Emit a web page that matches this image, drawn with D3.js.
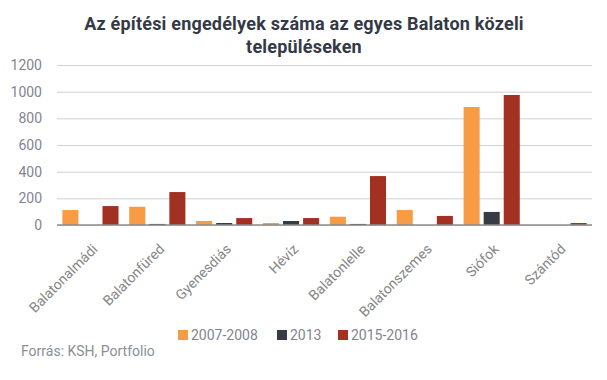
<!DOCTYPE html>
<html>
<head>
<meta charset="utf-8">
<script src="https://cdn.jsdelivr.net/npm/d3@7"></script>
<style>
  body { margin: 0; background: #fff; }
  svg { display: block; font-family: Roboto, "Noto Sans", sans-serif; }
</style>
</head>
<body>
<div id="chart"></div>
<script>
const categories = ['Balatonalmádi', 'Balatonfüred', 'Gyenesdiás', 'Hévíz', 'Balatonlelle', 'Balatonszemes', 'Siófok', 'Szántód'];
const seriesNames = ['2007-2008', '2013', '2015-2016'];
const values0708 = [112, 137, 30, 15, 62, 112, 885, 0];
const values2013 = [0, 8, 15, 30, 8, 0, 98, 0];
const values1516 = [142, 247, 52, 52, 367, 68, 975, 15];
const yTicks = [0, 200, 400, 600, 800, 1000, 1200];
const colors = ['#F79B45', '#373C44', '#A23122'];

const width = 607, height = 380;
const margin = { top: 65, right: 15, bottom: 155, left: 57 };
const innerWidth = width - margin.left - margin.right;
const innerHeight = height - margin.top - margin.bottom;

const table = categories.map((c, i) => ({
  category: c,
  values: [values0708[i], values2013[i], values1516[i]]
}));

const svg = d3.select('#chart').append('svg')
  .attr('width', width)
  .attr('height', height);

svg.append('text')
  .attr('x', 304).attr('y', 30)
  .attr('text-anchor', 'middle')
  .attr('font-size', 18).attr('font-weight', 'bold')
  .attr('letter-spacing', 0.2)
  .attr('fill', '#333A45')
  .selectAll('tspan')
  .data(['Az építési engedélyek száma az egyes Balaton közeli', 'településeken'])
  .join('tspan')
  .attr('x', 304)
  .attr('dy', (d, i) => i ? 23 : 0)
  .text(d => d);

const g = svg.append('g').attr('transform', `translate(${margin.left},${margin.top})`);

const x0 = d3.scaleBand().domain(categories).range([0, innerWidth]).paddingInner(0.16).paddingOuter(0.08);
const x1 = d3.scaleBand().domain(seriesNames).range([0, x0.bandwidth()]).paddingInner(0.2);
const y = d3.scaleLinear().domain([0, 1200]).range([innerHeight, 0]);

// gridlines
g.append('g')
  .call(d3.axisLeft(y).tickValues(yTicks).tickSize(-innerWidth).tickFormat(''))
  .call(a => a.select('.domain').remove())
  .call(a => a.selectAll('text').remove())
  .call(a => a.selectAll('line').attr('stroke', '#D0D0D0').attr('stroke-width', 1));

// y labels
g.append('g')
  .call(d3.axisLeft(y).tickValues(yTicks).tickSize(0).tickPadding(15).tickFormat(d3.format('d')))
  .call(a => a.select('.domain').remove())
  .call(a => a.selectAll('text').attr('font-size', 14).attr('fill', '#7F858F').attr('font-family', 'Roboto'));

// bars
g.append('g').selectAll('g')
  .data(table)
  .join('g')
  .attr('transform', d => `translate(${x0(d.category)},0)`)
  .selectAll('rect')
  .data(d => d.values.map((v, i) => ({ key: seriesNames[i], value: v, i })))
  .join('rect')
  .attr('x', d => x1(d.key))
  .attr('width', x1.bandwidth())
  .attr('y', d => y(d.value))
  .attr('height', d => innerHeight - y(d.value))
  .attr('fill', d => colors[d.i]);

// baseline
g.append('line')
  .attr('x1', 0).attr('x2', innerWidth)
  .attr('y1', y(0)).attr('y2', y(0))
  .attr('stroke', '#8C8C8C').attr('stroke-width', 1.5);

// x labels
g.append('g').selectAll('text')
  .data(categories)
  .join('text')
  .attr('transform', d => `translate(${x0(d) + x0.bandwidth() / 2 + 8},${innerHeight + 25}) rotate(-45)`)
  .attr('text-anchor', 'end')
  .attr('font-size', 14)
  .attr('fill', '#858585')
  .text(d => d);

// legend
const legend = svg.append('g').attr('transform', 'translate(178,330)');
const legendX = [0, 99, 160];
const items = legend.selectAll('g')
  .data(seriesNames)
  .join('g')
  .attr('transform', (d, i) => `translate(${legendX[i]},0)`);
items.append('rect').attr('width', 10).attr('height', 10).attr('fill', (d, i) => colors[i]);
items.append('text').attr('x', 13).attr('y', 10).attr('font-size', 14).attr('fill', '#7F858F').text(d => d);

svg.append('text')
  .attr('x', 21).attr('y', 356)
  .attr('font-size', 14)
  .attr('fill', '#8A8F96')
  .text('Forrás: KSH, Portfolio');
</script>
</body>
</html>
